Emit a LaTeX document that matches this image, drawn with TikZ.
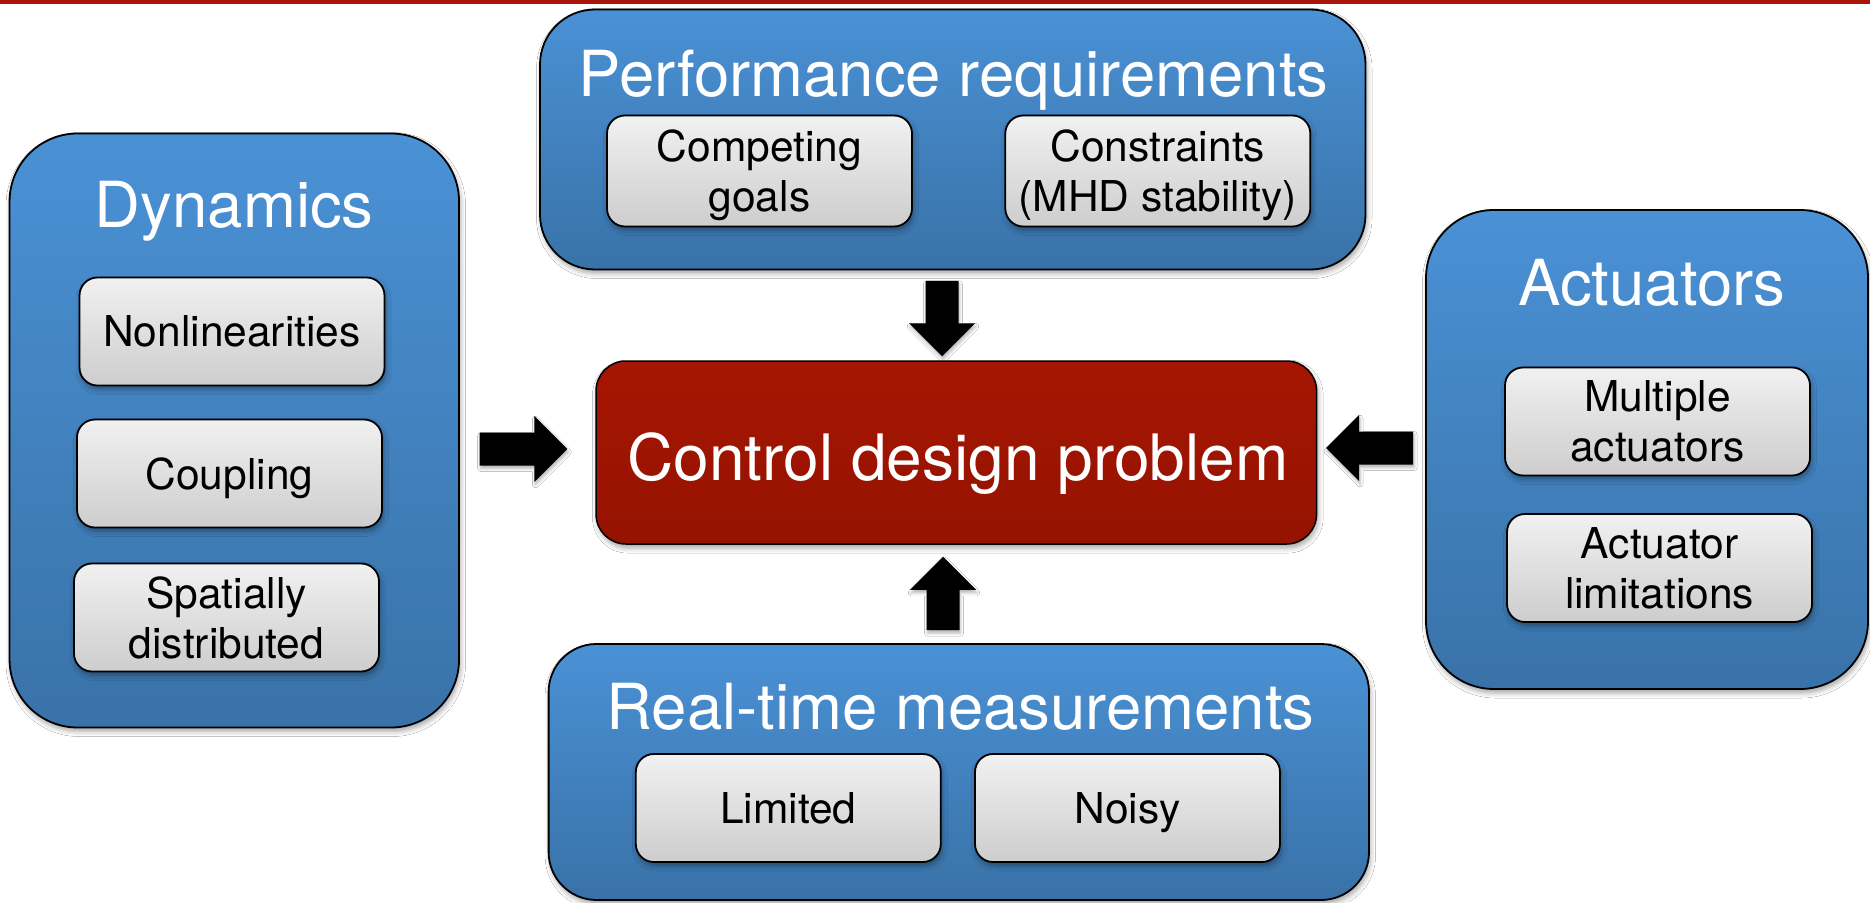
\documentclass[tikz,border=0pt]{standalone}
\usepackage{fontspec}
\setmainfont{TeX Gyre Heros}
\usetikzlibrary{calc,shadows.blur}

\definecolor{blueTop}{RGB}{74,145,213}
\definecolor{blueBot}{RGB}{57,114,168}
\definecolor{redTop}{RGB}{166,22,2}
\definecolor{redBot}{RGB}{149,19,1}
\definecolor{grayTop}{RGB}{241,241,241}
\definecolor{grayBot}{RGB}{205,205,205}
\definecolor{bandred}{RGB}{168,20,10}

\tikzset{
  softshadow/.style={blur shadow={shadow xshift=1.5pt, shadow yshift=-4pt,
      shadow blur radius=5pt, shadow opacity=35}},
  group/.style={draw=black, line width=1.8pt, top color=blueTop,
      bottom color=blueBot, rounded corners=#1, softshadow, inner sep=0pt},
  core/.style={draw=black, line width=1.5pt, top color=redTop,
      bottom color=redBot, rounded corners=30pt, softshadow, inner sep=0pt},
  item/.style={draw=black, line width=1.8pt, top color=grayTop,
      bottom color=grayBot, rounded corners=18pt, softshadow,
      minimum width=305pt, minimum height=108pt, inner sep=0pt,
      align=center, text depth=0pt, text=black,
      font=\fontsize{42.5}{50}\selectfont},
  heading/.style={anchor=base, inner sep=0pt, text=white,
      font=\fontsize{63.5}{70}\selectfont},
  fatfill/.style={fill=black, blur shadow={shadow xshift=1pt,
      shadow yshift=-3pt, shadow blur radius=3pt, shadow opacity=30}},
}

% block arrow from #1 to #2 (tip at #2)
\newcommand\fatarrow[2]{%
  \coordinate (fa-h) at ($(#2)!33pt!(#1)$);
  \fill[fatfill] ($(#1)!16.5pt!90:(#2)$) -- ($(fa-h)!16.5pt!90:(#2)$)
    -- ($(fa-h)!33pt!90:(#2)$) -- (#2) -- ($(fa-h)!33pt!-90:(#2)$)
    -- ($(fa-h)!16.5pt!-90:(#2)$) -- ($(#1)!16.5pt!-90:(#2)$) -- cycle;
}

\begin{document}
\begin{tikzpicture}[x=1pt,y=-1pt]
\useasboundingbox (0,0) rectangle (1870,902);
\clip (0,0) rectangle (1870,902);
\fill[white] (0,0) rectangle (1870,902);
\fill[bandred] (0,0) rectangle (1870,4);

% outer groups
\node[group=68pt, minimum width=449.5pt, minimum height=594pt] (dyn) at (234.3,430.5) {};
\node[group=55pt, minimum width=825.5pt, minimum height=260pt] (perf) at (952.75,139.5) {};
\node[group=68pt, minimum width=442pt, minimum height=479pt] (act) at (1647,449.5) {};
\node[group=48pt, minimum width=820.4pt, minimum height=256pt] (meas) at (958.8,772) {};

% central problem
\node[core, minimum width=720.6pt, minimum height=183pt] (ctrl) at (956.3,452.5) {};
\node[heading, font=\fontsize{64}{70}\selectfont] (ctrlText) at (958,480) {Control design problem};

% headings
\node[heading] (dynTitle) at (234.3,227.5) {Dynamics};
\node[heading] (perfTitle) at (953.5,96.5) {Performance requirements};
\node[heading] (actTitle) at (1652,305) {Actuators};
\node[heading] (measTitle) at (960.6,729) {Real-time measurements};

% items
\node[item] (nonlin) at (232,331.5) {Nonlinearities};
\node[item] (coupling) at (229.5,473.5) {Coupling};
\node[item] (spatial) at (226.5,617.5) {Spatially\\distributed};
\node[item, minimum height=111pt] (goals) at (759.5,171) {Competing\\goals};
\node[item, minimum height=111pt] (constr) at (1157.8,171) {Constraints\\(MHD stability)};
\node[item] (multi) at (1657.5,421.5) {Multiple\\actuators};
\node[item] (actlim) at (1659.5,568) {Actuator\\limitations};
\node[item] (limited) at (788.3,808) {Limited};
\node[item] (noisy) at (1127.5,808) {Noisy};

% arrow end points
\coordinate (pA) at ([xshift=-10.75pt,yshift=-10.5pt]perf.south);
\coordinate (pB) at ([xshift=-14.3pt,yshift=4pt]ctrl.north);
\coordinate (mA) at ([xshift=-15.8pt,yshift=13pt]meas.north);
\coordinate (mB) at ([xshift=-13.3pt,yshift=-12pt]ctrl.south);
\coordinate (dA) at ([xshift=19.7pt,yshift=-18.5pt]dyn.east);
\coordinate (dB) at ([xshift=-28pt,yshift=3.5pt]ctrl.west);
\coordinate (aA) at ([xshift=-12pt,yshift=1.5pt]act.west);
\coordinate (aB) at ([xshift=8.7pt,yshift=4.5pt]ctrl.east);

\fatarrow{pA}{pB}
\fatarrow{mA}{mB}
\fatarrow{dA}{dB}
\fatarrow{aA}{aB}
\end{tikzpicture}
\end{document}
